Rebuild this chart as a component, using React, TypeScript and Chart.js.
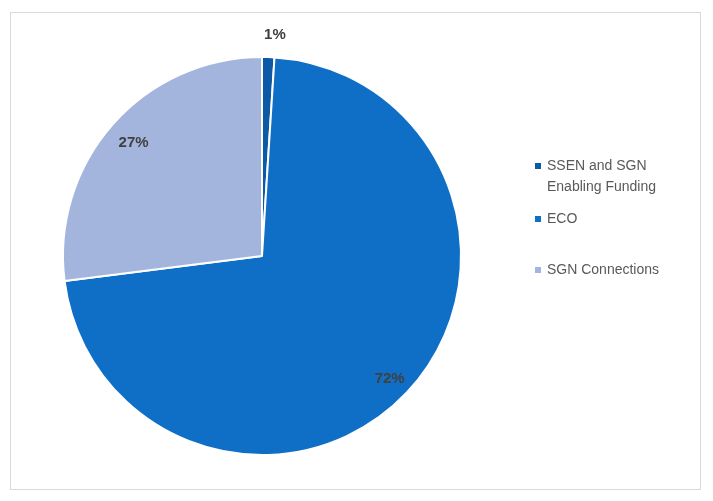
import { useEffect, useRef } from 'react';
import { Chart, registerables } from 'chart.js';

Chart.register(...registerables);

const categories = ['SSEN and SGN Enabling Funding', 'ECO', 'SGN Connections'];
const legendLines = [['SSEN and SGN', 'Enabling Funding'], ['ECO'], ['SGN Connections']];
const shares = [1, 72, 27];
const sliceColors = ['#0c5aa6', '#0f6fc6', '#a3b5dc'];
// where each percentage label sits, as a fraction of the radius
const labelRadius = [1.11, 0.88, 0.86];
// legend rows: y of the first line of each entry
const legendRowY = [166, 219, 270];

const FONT = '"Liberation Sans", Arial, sans-serif';

const framePlugin = {
  id: 'frame',
  beforeDraw(chart) {
    const ctx = chart.ctx;
    ctx.save();
    ctx.fillStyle = '#ffffff';
    ctx.fillRect(0, 0, chart.width, chart.height);
    ctx.strokeStyle = '#d9d9d9';
    ctx.lineWidth = 1;
    ctx.strokeRect(10.5, 12.5, 690, 477);
    ctx.restore();
  },
};

const sliceLabelPlugin = {
  id: 'sliceLabels',
  afterDatasetsDraw(chart) {
    const ctx = chart.ctx;
    const meta = chart.getDatasetMeta(0);
    const total = shares.reduce((a, b) => a + b, 0);
    ctx.save();
    ctx.font = `bold 15px ${FONT}`;
    ctx.fillStyle = '#404040';
    ctx.textAlign = 'center';
    ctx.textBaseline = 'middle';
    meta.data.forEach((arc, i) => {
      const { x, y, startAngle, endAngle, outerRadius } = arc.getProps(
        ['x', 'y', 'startAngle', 'endAngle', 'outerRadius'],
        true
      );
      const mid = (startAngle + endAngle) / 2;
      const r = outerRadius * labelRadius[i];
      const pct = Math.round((shares[i] / total) * 100);
      // the small outside label is nudged clear of the slice edge
      const nudge = i === 0 ? 6 : 0;
      ctx.fillText(`${pct}%`, x + Math.cos(mid) * r + nudge, y + Math.sin(mid) * r + (i === 1 ? 3 : 0));
    });
    ctx.restore();
  },
};

const sideLegendPlugin = {
  id: 'sideLegend',
  afterDraw(chart) {
    const ctx = chart.ctx;
    ctx.save();
    ctx.font = `14px ${FONT}`;
    ctx.textBaseline = 'middle';
    legendLines.forEach((lines, i) => {
      const y0 = legendRowY[i];
      ctx.fillStyle = sliceColors[i];
      ctx.fillRect(535, y0 - 3, 6, 6);
      ctx.fillStyle = '#595959';
      lines.forEach((line, j) => {
        ctx.fillText(line, 547, y0 + j * 21);
      });
    });
    ctx.restore();
  },
};

const App = () => {
  const chartRef = useRef(null);
  const chartInstance = useRef(null);

  useEffect(() => {
    if (chartRef.current) {
      if (chartInstance.current) {
        chartInstance.current.destroy();
      }
      chartInstance.current = new Chart(chartRef.current, {
        type: 'pie',
        data: {
          labels: categories,
          datasets: [
            {
              data: shares,
              backgroundColor: sliceColors,
              borderColor: '#ffffff',
              borderWidth: 2,
            },
          ],
        },
        options: {
          responsive: false,
          animation: false,
          layout: {
            padding: { left: 62, right: 251, top: 56, bottom: 45 },
          },
          plugins: {
            legend: { display: false },
            tooltip: { enabled: false },
          },
        },
        plugins: [framePlugin, sliceLabelPlugin, sideLegendPlugin],
      });
    }

    return () => {
      if (chartInstance.current) {
        chartInstance.current.destroy();
        chartInstance.current = null;
      }
    };
  }, []);

  return (
    <div style={{ position: 'fixed', left: 0, top: 0, width: 713, height: 501 }}>
      <canvas ref={chartRef} width={713} height={501} />
    </div>
  );
};

export default App;
